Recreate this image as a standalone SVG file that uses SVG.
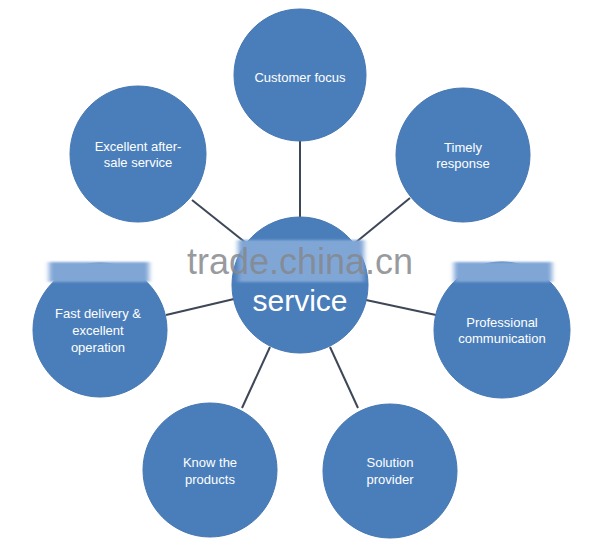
<svg xmlns="http://www.w3.org/2000/svg" width="599" height="547" viewBox="0 0 599 547">
<style>
.n{fill:#4a7ebb;stroke:#4677b3;stroke-width:1}
.t{fill:#ffffff;font-family:"Liberation Sans",Arial,sans-serif;font-size:13px;text-anchor:middle}
.c line{stroke:#3d4757;stroke-width:2}
.band{fill:#80a6d6}
</style>
<defs>
<filter id="blur" x="-10%" y="-30%" width="120%" height="160%"><feGaussianBlur stdDeviation="2.5 1"/></filter>
</defs>
<rect width="599" height="547" fill="#ffffff"/>
<g id="connectors" class="c">
<line x1="300" y1="140" x2="300" y2="220"/>
<line x1="355" y1="243" x2="410" y2="198"/>
<line x1="366" y1="300" x2="436" y2="315"/>
<line x1="330" y1="347" x2="358" y2="408"/>
<line x1="270" y1="347" x2="242" y2="408"/>
<line x1="234" y1="299" x2="166" y2="315"/>
<line x1="246" y1="243" x2="192" y2="200"/>
</g>
<g id="customer-focus"><circle class="n" cx="300" cy="75" r="66"/><text class="t" x="300" y="82">Customer focus</text></g>
<g id="timely-response"><circle class="n" cx="463" cy="155" r="67"/><text class="t" x="463" y="152">Timely</text><text class="t" x="463" y="168">response</text></g>
<g id="professional-communication"><circle class="n" cx="502" cy="330" r="68"/><text class="t" x="502" y="327">Professional</text><text class="t" x="502" y="343">communication</text></g>
<g id="solution-provider"><circle class="n" cx="390" cy="471" r="67"/><text class="t" x="390" y="467">Solution</text><text class="t" x="390" y="484">provider</text></g>
<g id="know-the-products"><circle class="n" cx="210" cy="470" r="67"/><text class="t" x="210" y="467">Know the</text><text class="t" x="210" y="484">products</text></g>
<g id="fast-delivery"><circle class="n" cx="100" cy="330" r="67"/><text class="t" x="98" y="318">Fast delivery &amp;</text><text class="t" x="98" y="335">excellent</text><text class="t" x="98" y="352">operation</text></g>
<g id="after-sale"><circle class="n" cx="138" cy="154" r="68"/><text class="t" x="138" y="151">Excellent after-</text><text class="t" x="138" y="167">sale service</text></g>
<g id="service"><circle class="n" cx="300" cy="285" r="68"/></g>
<g id="watermark">
<rect class="band" x="49" y="262" width="100" height="20" filter="url(#blur)"/>
<rect class="band" x="454" y="262" width="98" height="20" filter="url(#blur)"/>
<rect class="band" x="238" y="240" width="126" height="42" filter="url(#blur)"/>
<text x="300" y="274" font-family="Liberation Sans,Arial,sans-serif" font-size="36" fill="#85888d" fill-opacity="0.85" text-anchor="middle">trade.china.cn</text>
</g>
<text x="300" y="311" fill="#ffffff" font-family="Liberation Sans,Arial,sans-serif" font-size="30" text-anchor="middle">service</text>
</svg>
